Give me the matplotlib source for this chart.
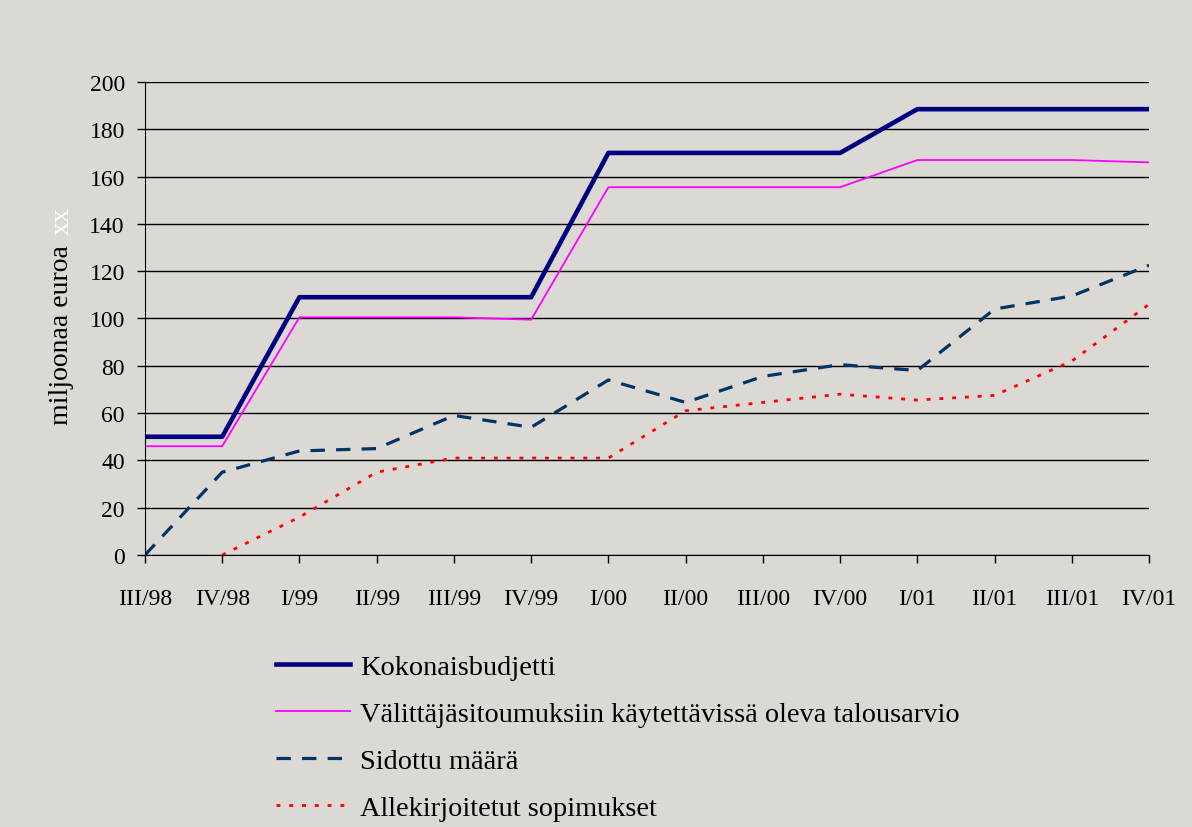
import matplotlib
matplotlib.use("Agg")
import matplotlib.pyplot as plt

quarters = ["III/98", "IV/98", "I/99", "II/99", "III/99", "IV/99", "I/00",
            "II/00", "III/00", "IV/00", "I/01", "II/01", "III/01", "IV/01"]

kokonais = [50, 50, 109, 109, 109, 109, 170, 170, 170, 170, 188.5, 188.5, 188.5, 188.5]
valittaja = [46, 46, 100.5, 100.5, 100.5, 99.5, 155.5, 155.5, 155.5, 155.5, 167, 167, 167, 166]
sidottu = [0, 35, 44, 45, 59, 54, 74, 64.5, 75.5, 80.5, 78, 104, 109.5, 122.5]
allekirj = [None, 0, 16, 35, 41, 41, 41, 61, 64.5, 68, 65.5, 67.5, 82, 106]

labels = ["Kokonaisbudjetti",
          "Välittäjäsitoumuksiin käytettävissä oleva talousarvio",
          "Sidottu määrä",
          "Allekirjoitetut sopimukset"]

bg = "#dcd9d5"
plt.rcParams["font.family"] = ["Liberation Serif", "DejaVu Serif"]

fig = plt.figure(figsize=(11.92, 8.28), dpi=100, facecolor=bg)
ax = fig.add_axes([0.1216, 0.3285, 0.8424, 0.5713], facecolor=bg)

x = list(range(len(quarters)))
ax.plot(x, kokonais, color="#000080", lw=3.3, label=labels[0])
ax.plot(x, valittaja, color="#ff00ff", lw=1.3, label=labels[1])
ax.plot(x, sidottu, color="#003366", lw=2.3, dashes=(4.5, 3.5), label=labels[2])
ax.plot(x[1:], allekirj[1:], color="#ff0000", lw=2, dashes=(1.4, 3.2), label=labels[3])

ax.set_xlim(0, len(quarters) - 1)
ax.set_ylim(0, 200)
ax.set_yticks(range(0, 201, 20))
ax.set_xticks(x)
ax.set_xticklabels(quarters)
ax.yaxis.grid(True, color="black", lw=1)
ax.set_axisbelow(True)
for s in ("top", "right"):
    ax.spines[s].set_visible(False)
ax.tick_params(axis="y", direction="out", length=6, width=1, labelsize=17, pad=8.5)
ax.tick_params(axis="x", direction="out", length=6, width=1, labelsize=17, pad=17.5)

# y label with the hidden white "xx" suffix
fig.text(62 / 1192, 1 - 425 / 828, "miljoonaa euroa", rotation=90,
         ha="center", va="bottom", fontsize=20)
fig.text(62 / 1192, 1 - 235 / 828, "xx", rotation=90,
         ha="center", va="bottom", fontsize=20, color="white")

fig.legend(loc="upper left", bbox_to_anchor=(265 / 1192, 1 - 644 / 828),
           frameon=False, fontsize=20.4, handlelength=2.6, handletextpad=0.36,
           labelspacing=0.74, borderaxespad=0)

fig.savefig("out.png", dpi=100, facecolor=bg)
